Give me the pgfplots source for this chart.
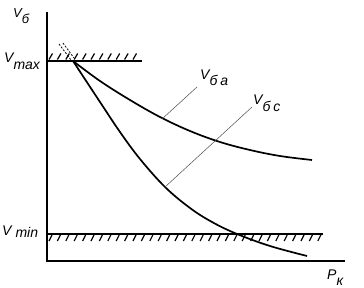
\documentclass[border=0pt]{standalone}
\usepackage{pgfplots}
\pgfplotsset{compat=1.18}
\usepackage{fontspec}
\setmainfont{Liberation Sans}
\begin{document}
\begin{tikzpicture}
\begin{axis}[
  x=1pt, y=1pt,
  xmin=0, xmax=364, ymin=0, ymax=287,
  hide axis, clip=false,
  every axis plot/.append style={no marks},
]
\coordinate (ll) at (axis cs:0,0);
\coordinate (ur) at (axis cs:364,287);
% main axes
\addplot[black, line width=1.7pt] coordinates {(47,275) (47,26) (345,26)};
% Vmax limit
\addplot[black, line width=1.7pt] coordinates {(47,226) (142,226)};
\addplot[black, line width=1.2pt, -, quiver={u=3.5, v=6}] coordinates {
(49,227.5) (57.4,227.5) (65.8,227.5) (74.2,227.5) (82.6,227.5) (91,227.5)
(99.4,227.5) (107.8,227.5) (116.2,227.5) (124.6,227.5) (133,227.5)};
% Vmin limit
\addplot[black, line width=1.7pt] coordinates {(47,53) (323,53)};
\addplot[black, line width=1.2pt, -, quiver={u=3, v=6}] coordinates {
(49,46) (57.4,46) (65.8,46) (74.2,46) (82.6,46) (91,46) (99.4,46) (107.8,46)
(116.2,46) (124.6,46) (133,46) (141.4,46) (149.8,46) (158.2,46) (166.6,46)
(175,46) (183.4,46) (191.8,46) (200.2,46) (208.6,46) (217,46) (225.4,46)
(233.8,46) (242.2,46) (250.6,46) (259,46) (267.4,46) (275.8,46) (284.2,46)
(292.6,46) (301,46) (309.4,46) (317.8,46)};
% dashed stubs
\addplot[black, line width=0.8pt, dash pattern=on 2pt off 1.5pt] coordinates {(59,243) (71,227)};
\addplot[black, line width=0.8pt, dash pattern=on 2pt off 1.5pt] coordinates {(63,244) (74,229)};
% curve V_ba
\addplot[black, line width=1.7pt, smooth, tension=0.6] coordinates {
(73,226) (100,206) (130,187) (160,170) (190,156) (220,145) (250,137) (280,131) (312,127)};
% curve V_bc
\addplot[black, line width=1.7pt, smooth, tension=0.6] coordinates {
(73,226) (100,185) (120,155) (140,128) (165,100) (190,79) (212,65) (237,53) (270,41) (307,31)};
% leaders
\addplot[black!70, line width=0.5pt] coordinates {(162,168) (197,200)};
\addplot[black!70, line width=0.5pt] coordinates {(165,100) (252,180)};
% labels
\node[anchor=base west, inner sep=0pt] at (axis cs:13,269) {\fontsize{13}{13}\selectfont\itshape V\raisebox{-6pt}{б}};
\node[anchor=base west, inner sep=0pt] at (axis cs:4,224) {\fontsize{14}{14}\selectfont\itshape V\raisebox{-7pt}{max}};
\node[anchor=base west, inner sep=0pt] at (axis cs:2,52) {\fontsize{14}{14}\selectfont\itshape V\hspace{4pt}\raisebox{-2pt}{min}};
\node[anchor=base west, inner sep=0pt] at (axis cs:327,8) {\fontsize{14}{14}\selectfont\itshape P\raisebox{-6pt}{к}};
\node[anchor=base west, inner sep=0pt] at (axis cs:200,207) {\fontsize{14}{14}\selectfont\itshape V\raisebox{-6pt}{б\hspace{3pt}a}};
\node[anchor=base west, inner sep=0pt] at (axis cs:253,182) {\fontsize{14}{14}\selectfont\itshape V\raisebox{-7pt}{б\hspace{3pt}c}};
\end{axis}
\path (ll) rectangle (ur);
\end{tikzpicture}
\end{document}
